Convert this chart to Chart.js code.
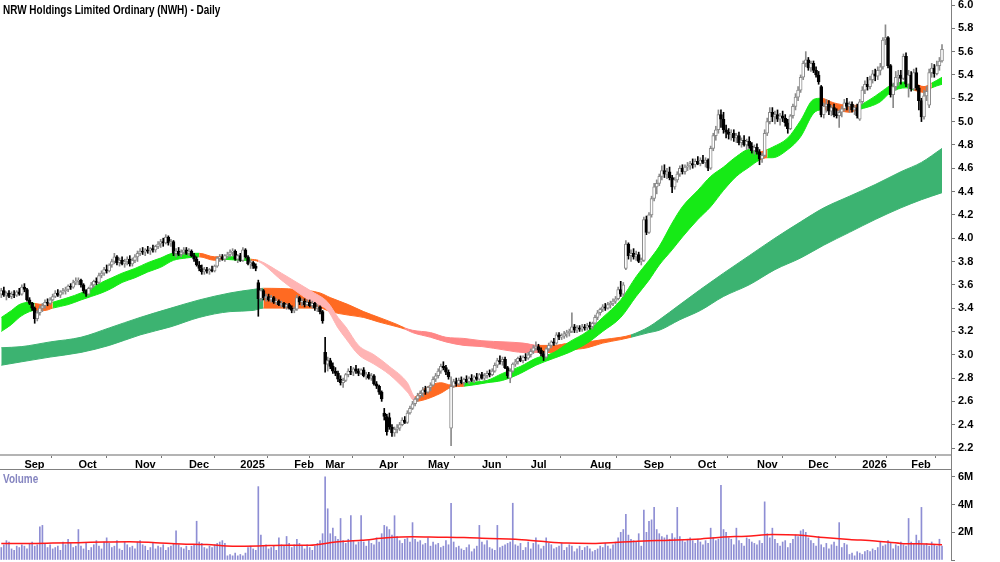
<!DOCTYPE html>
<html>
<head>
<meta charset="utf-8">
<script src="https://cdn.jsdelivr.net/npm/chart.js@4.4.1/dist/chart.umd.min.js"></script>
<style>
  body { margin: 0; background: #fff; width: 1000px; height: 562px; overflow: hidden; position: relative;
         font-family: "Liberation Sans", Arial, sans-serif; }
  canvas { position: absolute; left: 0; }
  #priceChart { top: 0; }
  #volChart { top: 470px; }
  .lbl { position: absolute; left: 3px; font-weight: bold; font-size: 12px; z-index: 2; white-space: nowrap;
         transform: scaleX(0.83); transform-origin: 0 0; }
  #title { top: 3px; color: #000; }
  #volLabel { top: 472px; color: #8585c0; }
</style>
</head>
<body>
<canvas id="priceChart" width="1000" height="470"></canvas>
<canvas id="volChart" width="1000" height="92"></canvas>
<div id="title" class="lbl">NRW Holdings Limited Ordinary (NWH) - Daily</div>
<div id="volLabel" class="lbl">Volume</div>
<script>
const FONT = '"Liberation Sans", Arial, sans-serif';
const SLOTS = 370; // bar slots on the time axis (last few are empty)

// month ticks on the time axis (bar index of first trading day)
const monthStarts = [9, 30, 52, 73, 93, 114, 126, 147, 166, 187, 206, 229, 250, 271, 294, 314, 335, 354];
const monthLabels = ['Sep','Oct','Nov','Dec','2025','Feb','Mar','Apr','May','Jun','Jul','Aug','Sep','Oct','Nov','Dec','2026','Feb'];
const priceTicks = [2.2,2.4,2.6,2.8,3.0,3.2,3.4,3.6,3.8,4.0,4.2,4.4,4.6,4.8,5.0,5.2,5.4,5.6,5.8,6.0];
const volTicks = [0, 2, 4, 6];

// daily candles, Aug 2024 - Feb 2026
const opens = [
3.52,3.55,3.51,3.53,3.50,3.52,3.51,3.54,3.52,3.58, 3.56,3.47,3.44,3.40,3.31,3.36,3.40,3.42,3.45,3.44,
3.47,3.50,3.53,3.51,3.54,3.55,3.56,3.59,3.58,3.62, 3.63,3.64,3.60,3.55,3.52,3.57,3.60,3.63,3.62,3.68,
3.70,3.73,3.72,3.77,3.80,3.84,3.79,3.81,3.78,3.80, 3.82,3.78,3.81,3.84,3.87,3.89,3.88,3.90,3.89,3.91,
3.90,3.93,3.95,3.97,3.96,4.01,3.96,3.97,3.87,3.89, 3.86,3.88,3.90,3.87,3.89,3.85,3.82,3.77,3.74,3.71,
3.73,3.72,3.73,3.72,3.76,3.83,3.84,3.82,3.85,3.86, 3.88,3.89,3.82,3.85,3.81,3.90,3.84,3.78,3.79,3.76,
3.62,3.48,3.55,3.49,3.50,3.47,3.49,3.45,3.46,3.43, 3.44,3.41,3.43,3.40,3.38,3.39,3.49,3.45,3.46,3.43,
3.45,3.42,3.44,3.40,3.41,3.37,3.02,2.92,2.95,2.90, 2.86,2.84,2.79,2.76,2.78,2.83,2.86,2.85,2.88,2.86,
2.84,2.87,2.82,2.83,2.80,2.82,2.75,2.73,2.68,2.50, 2.47,2.46,2.38,2.33,2.36,2.37,2.40,2.44,2.42,2.50,
2.54,2.58,2.62,2.65,2.67,2.70,2.68,2.72,2.74,2.79, 2.82,2.86,2.90,2.89,2.85,2.37,2.73,2.77,2.75,2.78,
2.76,2.79,2.77,2.80,2.78,2.81,2.79,2.83,2.80,2.82, 2.84,2.83,2.86,2.91,2.95,2.94,2.96,2.89,2.80,2.86,
2.92,2.94,2.97,2.95,2.98,2.97,3.00,3.03,3.06,3.07, 3.04,3.01,2.98,3.05,3.08,3.11,3.10,3.17,3.15,3.16,
3.18,3.19,3.20,3.24,3.21,3.23,3.22,3.24,3.23,3.25, 3.24,3.27,3.32,3.36,3.39,3.41,3.40,3.43,3.44,3.46,
3.48,3.56,3.52,3.74,3.95,3.85,3.87,3.84,3.86,3.80, 3.81,4.16,4.05,4.20,4.34,4.44,4.47,4.53,4.58,4.55,
4.57,4.52,4.44,4.50,4.55,4.60,4.57,4.61,4.62,4.64, 4.63,4.66,4.64,4.67,4.65,4.67,4.60,4.77,4.88,4.93,
5.06,5.02,4.93,4.91,4.89,4.90,4.86,4.88,4.82,4.84, 4.80,4.83,4.79,4.75,4.78,4.74,4.68,4.71,4.90,5.00,
5.08,5.04,5.06,5.02,5.05,5.03,4.99,4.94,5.05,5.13, 5.21,5.27,5.38,5.50,5.53,5.46,5.50,5.44,5.40,5.30,
5.06,5.13,5.15,5.09,5.12,5.06,5.05,5.08,5.11,5.16, 5.13,5.15,5.10,5.12,5.02,5.17,5.27,5.32,5.30,5.36,
5.41,5.39,5.44,5.47,5.70,5.72,5.48,5.23,5.30,5.38, 5.40,5.37,5.56,5.32,5.40,5.28,5.42,5.29,5.18,5.04,
5.22,5.14,5.42,5.46,5.41,5.48,5.52];
const highs = [
3.57,3.58,3.54,3.55,3.54,3.55,3.55,3.57,3.60,3.61, 3.57,3.49,3.45,3.41,3.38,3.42,3.44,3.47,3.48,3.49,
3.52,3.55,3.56,3.55,3.57,3.58,3.60,3.61,3.64,3.66, 3.66,3.65,3.61,3.56,3.58,3.62,3.64,3.66,3.70,3.72,
3.75,3.77,3.78,3.82,3.87,3.85,3.83,3.84,3.82,3.84, 3.85,3.83,3.86,3.89,3.91,3.92,3.91,3.93,3.92,3.94,
3.94,3.97,3.99,4.00,4.03,4.02,3.99,3.98,3.91,3.92, 3.90,3.92,3.92,3.91,3.90,3.87,3.84,3.80,3.77,3.75,
3.75,3.74,3.76,3.77,3.84,3.86,3.86,3.86,3.88,3.90, 3.91,3.90,3.86,3.87,3.92,3.91,3.85,3.81,3.80,3.78,
3.64,3.57,3.56,3.52,3.52,3.51,3.50,3.48,3.47,3.46, 3.45,3.44,3.44,3.42,3.41,3.51,3.50,3.48,3.48,3.47,
3.47,3.46,3.45,3.43,3.42,3.38,3.15,2.98,2.97,2.93, 2.89,2.86,2.82,2.80,2.84,2.88,2.90,2.89,2.91,2.88,
2.88,2.89,2.85,2.85,2.84,2.83,2.77,2.74,2.69,2.54, 2.49,2.50,2.40,2.38,2.40,2.42,2.46,2.47,2.52,2.56,
2.60,2.63,2.67,2.69,2.72,2.73,2.73,2.76,2.81,2.84, 2.88,2.92,2.94,2.91,2.87,2.81,2.79,2.80,2.80,2.81,
2.80,2.82,2.81,2.83,2.82,2.84,2.84,2.85,2.84,2.86, 2.87,2.88,2.93,2.97,2.99,2.98,2.98,2.90,2.88,2.93,
2.96,2.98,2.99,2.99,3.01,3.02,3.05,3.08,3.11,3.09, 3.06,3.03,3.06,3.10,3.12,3.14,3.19,3.19,3.18,3.20,
3.21,3.22,3.36,3.26,3.25,3.25,3.26,3.26,3.27,3.28, 3.28,3.34,3.38,3.40,3.43,3.44,3.45,3.46,3.48,3.50,
3.58,3.63,3.62,3.98,3.96,3.90,3.91,3.89,3.88,3.83, 4.18,4.19,4.22,4.36,4.47,4.50,4.55,4.62,4.63,4.60,
4.61,4.54,4.52,4.57,4.62,4.63,4.63,4.65,4.66,4.68, 4.68,4.70,4.69,4.71,4.69,4.68,4.79,4.90,4.96,5.10,
5.10,5.08,4.97,4.94,4.93,4.93,4.90,4.91,4.86,4.88, 4.85,4.87,4.82,4.80,4.81,4.76,4.73,4.93,5.03,5.12,
5.12,5.09,5.10,5.07,5.09,5.06,5.02,5.06,5.15,5.24, 5.30,5.40,5.52,5.60,5.55,5.52,5.52,5.47,5.43,5.31,
5.16,5.19,5.18,5.14,5.15,5.11,5.10,5.13,5.19,5.20, 5.17,5.17,5.14,5.15,5.19,5.30,5.35,5.38,5.39,5.44,
5.45,5.47,5.50,5.72,5.83,5.73,5.49,5.33,5.43,5.44, 5.44,5.58,5.59,5.44,5.43,5.45,5.46,5.31,5.20,5.27,
5.30,5.45,5.50,5.49,5.52,5.55,5.66];
const lows = [
3.49,3.50,3.47,3.49,3.48,3.49,3.50,3.51,3.51,3.54, 3.46,3.43,3.38,3.27,3.29,3.34,3.37,3.40,3.42,3.43,
3.46,3.49,3.50,3.49,3.52,3.52,3.54,3.56,3.57,3.60, 3.60,3.58,3.53,3.50,3.51,3.56,3.58,3.60,3.61,3.66,
3.68,3.70,3.71,3.75,3.78,3.77,3.76,3.77,3.75,3.77, 3.76,3.76,3.79,3.80,3.85,3.86,3.85,3.87,3.86,3.88,
3.88,3.91,3.92,3.93,3.95,3.94,3.93,3.85,3.84,3.85, 3.84,3.86,3.86,3.85,3.84,3.80,3.76,3.72,3.69,3.69,
3.70,3.69,3.71,3.71,3.75,3.80,3.81,3.80,3.83,3.84, 3.85,3.81,3.79,3.80,3.80,3.83,3.77,3.74,3.74,3.72,
3.33,3.46,3.47,3.46,3.46,3.45,3.44,3.43,3.42,3.41, 3.40,3.39,3.39,3.36,3.36,3.38,3.43,3.42,3.41,3.42,
3.41,3.40,3.38,3.37,3.35,3.27,2.85,2.86,2.88,2.84, 2.82,2.77,2.74,2.72,2.77,2.81,2.83,2.82,2.84,2.82,
2.83,2.81,2.79,2.79,2.78,2.74,2.71,2.66,2.60,2.44, 2.31,2.36,2.30,2.30,2.33,2.35,2.39,2.41,2.41,2.49,
2.53,2.56,2.60,2.63,2.64,2.66,2.67,2.69,2.73,2.77, 2.80,2.84,2.87,2.83,2.79,2.22,2.72,2.73,2.74,2.75,
2.74,2.76,2.75,2.77,2.76,2.78,2.78,2.79,2.78,2.80, 2.81,2.82,2.85,2.89,2.92,2.91,2.88,2.80,2.76,2.85,
2.90,2.92,2.94,2.93,2.95,2.96,2.98,3.01,3.04,3.02, 2.99,2.95,2.97,3.03,3.06,3.08,3.09,3.13,3.13,3.14,
3.15,3.16,3.19,3.19,3.19,3.20,3.20,3.21,3.21,3.22, 3.22,3.26,3.30,3.34,3.37,3.38,3.39,3.40,3.42,3.44,
3.47,3.50,3.50,3.73,3.82,3.80,3.82,3.81,3.79,3.77, 3.80,4.03,4.04,4.18,4.32,4.38,4.45,4.50,4.52,4.51,
4.50,4.39,4.42,4.48,4.53,4.55,4.55,4.58,4.59,4.60, 4.61,4.63,4.62,4.64,4.61,4.58,4.59,4.75,4.84,4.90,
4.95,4.90,4.86,4.85,4.84,4.83,4.82,4.80,4.78,4.79, 4.76,4.77,4.73,4.72,4.72,4.63,4.65,4.70,4.88,4.98,
5.00,4.98,5.00,4.97,5.00,4.96,4.90,4.93,5.03,5.10, 5.18,5.25,5.36,5.47,5.44,5.43,5.42,5.38,5.32,5.04,
5.03,5.08,5.06,5.05,5.04,5.03,4.95,5.04,5.09,5.10, 5.08,5.08,5.06,5.03,5.01,5.15,5.24,5.27,5.28,5.33,
5.35,5.36,5.40,5.45,5.66,5.46,5.21,5.12,5.27,5.31, 5.32,5.36,5.30,5.21,5.26,5.27,5.27,5.10,5.00,5.02,
5.18,5.12,5.38,5.38,5.40,5.44,5.51];
const closes = [
3.55,3.51,3.53,3.50,3.52,3.51,3.54,3.52,3.58,3.56, 3.47,3.44,3.40,3.31,3.36,3.40,3.42,3.45,3.44,3.47,
3.50,3.53,3.51,3.54,3.55,3.56,3.59,3.58,3.62,3.63, 3.64,3.60,3.55,3.52,3.57,3.60,3.63,3.62,3.68,3.70,
3.73,3.72,3.77,3.80,3.84,3.79,3.81,3.78,3.80,3.82, 3.78,3.81,3.84,3.87,3.89,3.88,3.90,3.89,3.91,3.90,
3.93,3.95,3.97,3.96,4.01,3.96,3.97,3.87,3.89,3.86, 3.88,3.90,3.87,3.89,3.85,3.82,3.77,3.74,3.71,3.73,
3.72,3.73,3.72,3.76,3.83,3.84,3.82,3.85,3.86,3.88, 3.89,3.82,3.85,3.81,3.90,3.84,3.78,3.79,3.76,3.74,
3.48,3.55,3.49,3.50,3.47,3.49,3.45,3.46,3.43,3.44, 3.41,3.43,3.40,3.38,3.39,3.49,3.45,3.46,3.43,3.45,
3.42,3.44,3.40,3.41,3.37,3.29,2.92,2.95,2.90,2.86, 2.84,2.79,2.76,2.78,2.83,2.86,2.85,2.88,2.86,2.84,
2.87,2.82,2.83,2.80,2.82,2.75,2.73,2.68,2.62,2.47, 2.34,2.38,2.33,2.36,2.37,2.40,2.44,2.42,2.50,2.54,
2.58,2.62,2.65,2.67,2.70,2.68,2.72,2.74,2.79,2.82, 2.86,2.90,2.89,2.85,2.81,2.73,2.77,2.75,2.78,2.76,
2.79,2.77,2.80,2.78,2.81,2.79,2.83,2.80,2.82,2.84, 2.83,2.86,2.91,2.95,2.94,2.96,2.89,2.82,2.86,2.92,
2.94,2.97,2.95,2.98,2.97,3.00,3.03,3.06,3.07,3.04, 3.01,2.98,3.05,3.08,3.11,3.10,3.17,3.15,3.16,3.18,
3.19,3.20,3.24,3.21,3.23,3.22,3.24,3.23,3.25,3.24, 3.27,3.32,3.36,3.39,3.41,3.40,3.43,3.44,3.46,3.48,
3.56,3.52,3.60,3.95,3.85,3.87,3.84,3.86,3.80,3.81, 4.16,4.05,4.20,4.34,4.44,4.47,4.53,4.58,4.55,4.57,
4.52,4.44,4.50,4.55,4.60,4.57,4.61,4.62,4.64,4.63, 4.66,4.64,4.67,4.65,4.67,4.60,4.77,4.88,4.93,5.06,
5.02,4.93,4.91,4.89,4.90,4.86,4.88,4.82,4.84,4.80, 4.83,4.79,4.75,4.78,4.74,4.68,4.71,4.90,5.00,5.08,
5.04,5.06,5.02,5.05,5.03,4.99,4.94,5.05,5.13,5.21, 5.27,5.38,5.50,5.53,5.46,5.50,5.44,5.40,5.34,5.06,
5.13,5.15,5.09,5.12,5.06,5.05,5.08,5.11,5.16,5.13, 5.15,5.10,5.12,5.05,5.17,5.27,5.32,5.30,5.36,5.41,
5.39,5.44,5.47,5.70,5.72,5.48,5.23,5.30,5.38,5.40, 5.37,5.56,5.32,5.40,5.28,5.42,5.29,5.18,5.04,5.22,
5.26,5.42,5.46,5.41,5.48,5.52,5.62];

// daily volume, millions of shares
const volumes = [
0.9,1.1,1.4,1.3,0.8,0.7,1.0,0.9,1.1,1.0, 0.8,1.2,1.3,1.0,1.1,2.4,2.5,1.2,0.9,1.1,
0.8,0.9,1.0,0.7,1.3,1.1,1.5,1.2,0.9,1.0, 2.2,1.0,0.8,1.2,0.7,0.9,1.1,1.4,1.0,0.8,
1.3,1.6,1.2,0.9,1.0,1.4,0.8,0.7,1.3,1.1, 0.9,1.0,0.8,1.3,1.4,1.1,1.0,0.7,0.9,1.2,
0.8,1.0,0.9,1.1,0.7,0.9,1.0,1.2,2.1,1.1, 0.9,0.8,1.0,0.7,1.0,1.1,2.8,1.3,1.2,0.9,
0.8,1.0,0.9,1.1,1.2,1.3,1.4,1.2,0.3,0.4, 0.3,0.5,0.3,0.4,0.3,0.5,0.9,1.0,0.8,0.7,
5.3,1.8,1.0,1.1,0.8,0.9,1.0,0.7,1.6,1.1, 1.0,1.7,1.2,0.9,1.1,1.5,1.2,1.0,0.8,1.1,
0.9,0.7,1.0,1.2,1.4,1.9,6.0,3.7,1.9,2.3, 1.7,1.5,3.0,1.4,1.2,1.5,3.2,1.4,1.1,1.3,
3.2,1.3,1.0,1.4,1.2,1.1,1.6,1.3,1.9,2.5, 2.4,2.2,1.8,3.2,1.7,1.4,1.2,1.5,1.6,1.3,
2.7,1.5,1.3,1.4,1.1,1.2,1.6,1.0,1.3,1.1, 1.2,0.9,1.0,1.4,1.1,4.1,1.3,0.9,1.0,0.8,
0.7,0.9,1.1,0.6,0.8,1.0,2.5,1.3,1.1,1.4, 0.9,0.8,0.7,2.5,0.9,1.0,1.1,1.2,1.3,4.1,
1.1,1.0,1.2,0.7,0.9,1.3,0.8,1.2,1.6,1.1, 0.8,1.0,1.6,1.2,1.1,0.8,0.9,1.0,1.2,0.7,
0.9,1.1,1.0,0.6,0.8,1.0,0.7,0.9,1.0,0.8, 0.6,0.7,0.8,1.0,0.9,1.2,1.0,0.8,1.1,1.3,
1.6,2.0,2.2,3.3,1.8,1.5,1.4,1.3,1.9,1.0, 3.6,2.0,2.8,2.9,3.8,2.2,1.9,1.7,1.6,1.8,
1.5,1.9,1.6,3.8,1.7,1.4,1.3,1.5,1.6,1.4, 1.2,1.5,1.3,1.1,1.4,1.2,2.3,1.6,1.4,1.5,
5.4,2.2,2.0,1.6,1.5,1.1,2.3,1.4,1.2,1.0, 1.6,1.5,1.3,1.2,1.1,1.4,1.2,4.2,1.9,1.6,
2.3,1.5,1.2,1.0,1.3,1.4,0.9,1.2,1.5,1.8, 1.7,2.1,2.2,2.0,1.6,1.4,1.2,1.0,1.7,1.1,
0.9,1.2,0.8,1.1,1.3,1.0,2.7,0.9,1.2,1.1, 0.4,0.5,0.3,0.6,0.5,0.4,0.6,0.7,0.6,0.8,
0.7,0.9,1.3,1.0,1.1,1.4,1.2,0.8,1.1,1.0, 1.3,1.1,1.0,3.0,1.3,1.2,1.8,1.4,3.8,1.1,
1.2,1.0,1.3,1.1,1.0,1.5,1.0];

// volume moving average
const volMaIdx = [0,10,20,30,40,50,60,70,80,90,100,110,120,130,140,150,160,170,180,190,200,210,220,230,240,250,260,270,280,290,300,310,320,330,340,350,360,366];
const volMa = [1.2,1.2,1.22,1.25,1.3,1.32,1.25,1.16,1.12,1.0,1.02,1.07,1.07,1.3,1.42,1.6,1.68,1.65,1.62,1.55,1.5,1.35,1.22,1.2,1.28,1.38,1.42,1.5,1.65,1.72,1.84,1.8,1.62,1.48,1.38,1.2,1.15,1.1];

// short-term ribbon (top / bottom edge) and its state: g up, o mixed, p down
const shortIdx = [0,4,7,11,13,17,20,26,31,35, 39,43,47,52,57,62,67,72,77,83, 86,93,97,100,109,115,121,127,131,134,
  139,145,151,158,161,164,171,175,180,189, 195,202,208,215,221,228,234,241,247,252, 256,261,265,271,276,281,286,291,295,298,
  300,306,311,316,319,324,330,333,338,342, 346,352,355,359,362,366];
const shortTop = [3.32,3.38,3.43,3.45,3.44,3.43,3.45,3.49,3.53,3.57, 3.62,3.66,3.70,3.74,3.79,3.83,3.87,3.87,3.87,3.84,
  3.84,3.84,3.82,3.81,3.70,3.62,3.54,3.45,3.32,3.24, 3.08,3.00,2.90,2.76,2.64,2.70,2.76,2.74,2.76,2.78,
  2.84,2.90,2.97,3.02,3.11,3.20,3.32,3.47,3.67,3.81, 3.93,4.13,4.27,4.41,4.53,4.61,4.70,4.76,4.74,4.76,
  4.78,4.86,5.01,5.19,5.20,5.16,5.14,5.14,5.19,5.25, 5.31,5.34,5.33,5.30,5.33,5.38];
const shortBot = [3.20,3.26,3.32,3.37,3.38,3.38,3.40,3.43,3.47,3.50, 3.53,3.57,3.62,3.66,3.71,3.75,3.81,3.83,3.84,3.81,
  3.82,3.81,3.81,3.80,3.64,3.54,3.45,3.38,3.23,3.14, 3.00,2.92,2.83,2.68,2.60,2.61,2.67,2.72,2.73,2.76,
  2.78,2.84,2.91,2.97,3.02,3.10,3.20,3.32,3.50,3.64, 3.77,3.90,4.01,4.16,4.27,4.41,4.53,4.61,4.67,4.69,
  4.69,4.76,4.87,5.07,5.10,5.10,5.08,5.10,5.13,5.17, 5.25,5.29,5.27,5.25,5.29,5.32];
const shortState = ['g','g','g','g','o','o','g','g','g','g', 'g','g','g','g','g','g','g','g','o','o',
  'g','g','o','p','p','p','p','p','p','p', 'p','p','p','p','o','o','o','o','g','g',
  'g','g','g','g','g','g','g','g','g','g', 'g','g','g','g','g','g','g','g','o','g',
  'g','g','g','g','o','o','o','g','g','g', 'g','g','o','o','g','g'];

// long-term ribbon: d up, o mixed, s down
const longIdx = [0,8,19,31,42,54,66,77,89,98, 102,115,124,128,135,141,147,154,157,160,
  167,173,180,187,196,203,209,215,221,228, 234,241,245,252,256,264,272,281,291,301, 311,320,330,340,350,358,366];
const longTop = [3.06,3.07,3.11,3.15,3.23,3.32,3.40,3.47,3.53,3.56, 3.57,3.56,3.53,3.49,3.43,3.37,3.32,3.26,3.23,3.21,
  3.19,3.15,3.14,3.12,3.11,3.10,3.08,3.08,3.10,3.11, 3.13,3.15,3.17,3.24,3.30,3.43,3.56,3.70,3.85,4.00,
  4.14,4.26,4.36,4.46,4.57,4.65,4.77];
const longBot = [2.91,2.94,2.98,3.02,3.08,3.17,3.24,3.32,3.37,3.38, 3.40,3.40,3.40,3.37,3.34,3.32,3.28,3.24,3.22,3.19,
  3.15,3.11,3.08,3.07,3.04,3.02,3.02,3.02,3.04,3.06, 3.10,3.13,3.15,3.19,3.21,3.30,3.38,3.50,3.60,3.73,
  3.83,3.94,4.05,4.16,4.26,4.33,4.39];
const longState = ['d','d','d','d','d','d','d','d','d','d', 'o','o','o','o','o','o','o','o','s','s',
  's','s','s','s','s','s','o','o','o','o', 'o','o','d','d','d','d','d','d','d','d', 'd','d','d','d','d','d','d'];

const ribbonColors = { g: '#16ea16', o: '#ff6a22', p: '#ffb4b4', d: '#3cb371', s: '#ff8686' };

const tickFont = { family: FONT, size: 11, weight: 'bold' };

function ribbon(idx, vals, states, fill, order) {
  const cols = states.map(s => ribbonColors[s]);
  return {
    type: 'line',
    data: idx.map((x, k) => ({ x: x, y: vals[k] })),
    borderWidth: 1,
    borderColor: cols[0],
    backgroundColor: cols[0],
    pointRadius: 0,
    cubicInterpolationMode: 'monotone',
    fill: fill,
    order: order,
    segment: {
      borderColor: c => cols[c.p0DataIndex],
      backgroundColor: c => cols[c.p0DataIndex]
    }
  };
}

const upCol = '#8a8a8a';
const isUp = closes.map((c, i) => c >= opens[i]);

// right axes are fitted to a fixed width, with no extra room kept for end labels
function fitRight(s) {
  s.width = 49;
  s.paddingTop = 0;
  s.paddingBottom = 0;
}

// small line through the x label band, and its bottom rule
const axisGap = {
  id: 'axisGap',
  afterDraw(chart) {
    const ctx = chart.ctx, a = chart.chartArea;
    ctx.save();
    ctx.strokeStyle = '#808080';
    ctx.lineWidth = 1;
    ctx.beginPath();
    ctx.moveTo(a.right + 0.5, a.bottom);
    ctx.lineTo(a.right + 0.5, chart.height);
    ctx.moveTo(0, chart.height - 0.5);
    ctx.lineTo(a.right + 1, chart.height - 0.5);
    ctx.stroke();
    ctx.restore();
  }
};

new Chart(document.getElementById('priceChart'), {
  type: 'bar',
  data: {
    datasets: [
      ribbon(longIdx, longTop, longState, false, 4),
      ribbon(longIdx, longBot, longState, '-1', 4),
      ribbon(shortIdx, shortTop, shortState, false, 3),
      ribbon(shortIdx, shortBot, shortState, '-1', 3),
      {
        data: closes.map((c, i) => ({ x: i, y: [lows[i], highs[i]] })),
        backgroundColor: isUp.map(u => u ? upCol : '#000'),
        barThickness: 1,
        grouped: false,
        order: 1
      },
      {
        data: closes.map((c, i) => ({ x: i, y: [opens[i], c] })),
        backgroundColor: isUp.map(u => u ? '#fff' : '#000'),
        borderColor: isUp.map(u => u ? upCol : '#000'),
        borderWidth: 1,
        borderSkipped: false,
        minBarLength: 1,
        barThickness: 3,
        grouped: false,
        order: 0
      }
    ]
  },
  options: {
    responsive: false,
    animation: false,
    devicePixelRatio: 1,
    layout: { padding: 0 },
    plugins: { legend: { display: false }, tooltip: { enabled: false } },
    scales: {
      x: {
        type: 'linear', min: -0.5, max: SLOTS - 0.5, offset: false, bounds: 'data',
        afterFit: s => { s.height = 15; s.paddingLeft = 0; s.paddingRight = 0; },
        afterBuildTicks: s => { s.ticks = monthStarts.map(v => ({ value: v })); },
        ticks: {
          autoSkip: false, maxRotation: 0, align: 'start', padding: 0, color: '#000', font: tickFont,
          callback: v => monthLabels[monthStarts.indexOf(v)]
        },
        grid: { drawOnChartArea: false, drawTicks: true, tickLength: 3, color: '#777' },
        border: { display: true, color: '#b4b4b4', width: 2 }
      },
      y: {
        type: 'linear', position: 'right', min: 2.14, max: 6.043, bounds: 'data',
        afterFit: fitRight,
        afterBuildTicks: s => { s.ticks = priceTicks.map(v => ({ value: v })); },
        ticks: { padding: 3, color: '#000', font: tickFont, callback: v => v.toFixed(1) },
        grid: { drawOnChartArea: false, tickLength: 4, color: '#777' },
        border: { display: true, color: '#808080' }
      }
    }
  },
  plugins: [axisGap]
});

new Chart(document.getElementById('volChart'), {
  type: 'bar',
  data: {
    datasets: [
      {
        type: 'line',
        data: volMaIdx.map((x, k) => ({ x: x, y: volMa[k] })),
        borderColor: '#ff1a1a',
        borderWidth: 1.5,
        pointRadius: 0,
        cubicInterpolationMode: 'monotone',
        order: 0
      },
      {
        data: volumes.map((v, i) => ({ x: i, y: v })),
        backgroundColor: '#8e8ed4',
        barThickness: 1,
        order: 1
      }
    ]
  },
  options: {
    responsive: false,
    animation: false,
    devicePixelRatio: 1,
    layout: { padding: { bottom: 2 } },
    plugins: { legend: { display: false }, tooltip: { enabled: false } },
    scales: {
      x: { type: 'linear', min: -0.5, max: SLOTS - 0.5, offset: false, bounds: 'data', display: false },
      y: {
        type: 'linear', position: 'right', min: 0, max: 6.5, bounds: 'data',
        afterFit: fitRight,
        afterBuildTicks: s => { s.ticks = volTicks.map(v => ({ value: v })); },
        ticks: { padding: 3, color: '#000', font: tickFont, callback: v => v === 0 ? '' : v + 'M' },
        grid: { drawOnChartArea: false, tickLength: 4, color: '#777' },
        border: { display: true, color: '#808080' }
      }
    }
  }
});
</script>
</body>
</html>
